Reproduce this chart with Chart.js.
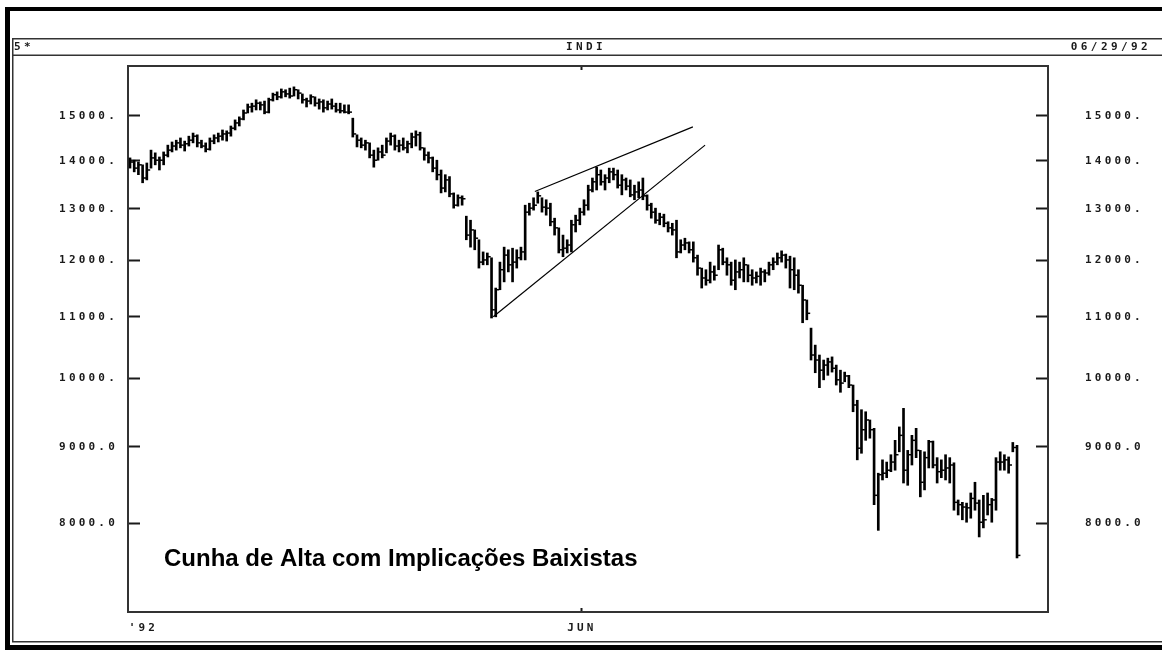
<!DOCTYPE html>
<html><head><meta charset="utf-8">
<script src="https://cdn.jsdelivr.net/npm/chart.js@4.4.1/dist/chart.umd.min.js"></script>
<style>html,body{margin:0;padding:0;background:#fff;}#wrap{width:1162px;height:652px;}</style>
</head><body><div id="wrap"><canvas id="c" width="1162" height="652"></canvas></div>
<script>
// ---- data ----
const highs = [14060,14010,13970,13910,13950,14230,14170,14080,14190,14340,14410,
14450,14500,14430,14540,14610,14570,14450,14390,14500,14570,14610,14680,14660,14770,14910,14980,
15140,15280,15300,15380,15330,15350,15420,15540,15570,15640,15620,15660,15690,15620,15520,15420,15500,15450,15400,15380,15350,15400,15300,15300,15260,15260,
14950,14570,14500,14450,14390,14230,14280,14340,14500,14610,14570,14450,14500,14430,14610,14660,14630,
14280,14190,14080,14010,13800,13700,13660,13320,13280,13260,
12850,12770,12580,12390,12160,12140,12050,11500,11970,12250,12200,12230,12200,12250,
13070,13110,13220,13340,13220,13180,13110,12810,12620,12480,12390,12770,12870,13010,13180,13480,13630,
13860,13800,13700,13840,13840,13800,13700,13630,13590,13480,13550,13630,13280,13110,13010,12910,12890,12740,12710,
12770,12390,12420,12350,12350,12100,11860,11830,11970,11900,12290,12230,12050,11970,12010,11970,12050,11920,11830,11790,11860,11830,11970,12050,12140,12180,12120,12080,12050,11830,11550,11290,
10810,10530,10370,10290,10320,10340,10210,10130,10100,10050,9900,9670,9530,9500,9380,9260,
8640,8820,8790,8890,9090,9280,9550,8950,9160,9260,8950,8930,9090,9080,8850,8820,8890,8850,
8780,8290,8260,8250,8380,8520,8290,8350,8380,8310,8850,8930,8890,8860,9060,9020];
const lows = [13840,13760,13700,13530,13590,13840,13910,13800,13910,14080,14190,
14230,14280,14210,14320,14390,14300,14280,14190,14230,14370,14410,14450,14430,14540,14680,14770,
14910,15070,15090,15140,15140,15050,15070,15350,15380,15420,15450,15420,15470,15400,15300,15210,15280,15230,15160,15090,15140,15160,15090,15070,15070,15050,
14520,14300,14280,14230,14060,13860,14010,14060,14170,14340,14230,14190,14230,14170,14280,14320,14230,
14010,13950,13760,13590,13320,13340,13240,13010,13050,13070,
12390,12250,12200,11860,11920,11920,10980,11000,11470,11610,11790,11610,11860,12010,
12010,12870,12970,13110,12930,12870,12660,12480,12140,12070,12140,12160,12540,12680,12870,12970,13340,
13380,13480,13380,13530,13590,13420,13280,13380,13240,13180,13220,13180,12970,12810,12710,12680,12640,12540,12480,
12050,12140,12200,12140,11970,11730,11500,11550,11590,11640,11830,11920,11730,11550,11470,11680,11610,11610,11550,11590,11550,11610,11730,11830,11920,11970,11860,11500,11470,11410,10900,10950,
10290,10090,9860,9980,10050,10100,9900,9790,9950,9860,9500,8820,8910,9090,9120,8230,
7910,8550,8580,8660,8680,8930,8510,8480,8750,8850,8330,8420,8710,8710,8510,8580,8550,8510,
8160,8100,8040,8010,8060,8160,7830,7940,8100,8010,8160,8680,8680,8640,8930,7580];
const closes = [13970,13840,13910,13630,13800,14060,14010,14010,14120,14230,14320,
14390,14340,14370,14450,14540,14390,14320,14250,14430,14500,14540,14590,14610,14720,14840,14930,
15070,15210,15230,15300,15260,15090,15380,15500,15450,15570,15520,15470,15620,15540,15380,15350,15450,15300,15330,15190,15280,15230,15140,15120,15090,15090,
14590,14450,14340,14390,14120,14010,14190,14120,14430,14540,14320,14340,14280,14370,14520,14570,14280,
14120,14060,13840,13700,13420,13590,13300,13070,13220,13200,
12480,12580,12420,11970,12010,12070,11120,11470,11830,12100,11920,11970,12050,12160,
12930,13010,13070,13260,13030,13010,12740,12620,12200,12230,12290,12680,12770,12930,13070,13380,13550,
13700,13550,13630,13760,13700,13480,13590,13460,13280,13340,13380,13260,13070,12930,12770,12830,12710,12620,12580,
12160,12290,12330,12200,12050,11860,11680,11640,11790,11730,12200,11970,11920,11640,11790,11830,11920,11730,11680,11710,11790,11770,11920,11970,12050,12100,12010,11830,11730,11550,11290,11060,
10370,10290,10130,10210,10260,10160,9980,9930,10040,9900,9600,8980,9240,9380,9240,8350,
8620,8640,8680,8790,8890,9160,8680,8890,9090,8950,8520,8850,9070,8750,8660,8680,8710,8750,
8260,8230,8200,8190,8310,8250,8010,8040,8230,8290,8790,8790,8820,8750,8990,7610];

const yTickValues = [8000, 9000, 10000, 11000, 12000, 13000, 14000, 15000];
const yTickLabels = ['8000.0', '9000.0', '10000.', '11000.', '12000.', '13000.', '14000.', '15000.'];
const xTickPositions = [3.2, 107.5];
const xTickLabels = ["'92", 'JUN'];
const wedgeUpper = [{x: 96.3, y: 13350}, {x: 133.9, y: 14750}];
const wedgeLower = [{x: 86.4, y: 11000}, {x: 136.8, y: 14340}];
const headerLeft = '5*';
const headerCenter = 'INDI';
const headerRight = '06/29/92';
const chartTitle = 'Cunha de Alta com Implicações Baixistas';

// ---- chart ----
const X_MIN = -0.476, X_MAX = 218.37;
const Y_MIN = 6973, Y_MAX = 16204;
const monoFont = {family: 'DejaVu Sans Mono', size: 11, weight: 'bold'};
const INK = '#1a1a1a';

const framePlugin = {
  id: 'frame',
  beforeDraw(chart) {
    const ctx = chart.ctx;
    ctx.save();
    ctx.fillStyle = '#fff';
    ctx.fillRect(0, 0, chart.width, chart.height);
    ctx.fillStyle = '#000';
    ctx.fillRect(5, 7, 1157, 4);
    ctx.fillRect(5, 7, 5, 643);
    ctx.fillRect(5, 645, 1157, 5);
    ctx.fillStyle = '#333';
    ctx.fillRect(12, 38, 1150, 1.5);
    ctx.fillRect(12, 54.5, 1150, 1.5);
    ctx.fillRect(12, 38, 1.5, 604);
    ctx.fillRect(12, 641, 1150, 1.5);
    ctx.fillStyle = INK;
    ctx.font = 'bold 11px "DejaVu Sans Mono"';
    ctx.letterSpacing = '3.4px';
    ctx.textBaseline = 'middle';
    ctx.textAlign = 'left';
    ctx.fillText(headerLeft, 14, 47);
    ctx.textAlign = 'center';
    ctx.fillText(headerCenter, 586, 47);
    ctx.textAlign = 'right';
    ctx.fillText(headerRight, 1151, 47);
    ctx.restore();
    ctx.letterSpacing = '3.2px';
  },
  afterDraw(chart) {
    const ctx = chart.ctx;
    ctx.save();
    ctx.letterSpacing = '0px';
    ctx.fillStyle = '#000';
    ctx.font = 'bold 24px "Liberation Sans"';
    ctx.textAlign = 'left';
    ctx.textBaseline = 'alphabetic';
    ctx.fillText(chartTitle, 164, 566);
    ctx.restore();
  }
};

const zeroPad = s => { s.paddingTop = 0; s.paddingBottom = 0; s.paddingLeft = 0; s.paddingRight = 0; };
const xTicks = s => { s.ticks = xTickPositions.map(v => ({value: v})); };
const yTicks = s => { s.ticks = yTickValues.map(v => ({value: v})); };
const yLabel = v => { const k = yTickValues.indexOf(v); return k >= 0 ? yTickLabels[k] : ''; };
const xTickColor = c => (c.index === 0 ? 'rgba(0,0,0,0)' : INK);

new Chart(document.getElementById('c'), {
  type: 'bar',
  data: {
    datasets: [
      {
        type: 'bar',
        data: highs.map((h, i) => ({x: i, y: [lows[i], h]})),
        backgroundColor: '#000',
        borderWidth: 0,
        barThickness: 2,
        grouped: false,
        xAxisID: 'x', yAxisID: 'y'
      },
      {
        type: 'line',
        data: closes.map((c, i) => ({x: i + 0.4, y: c})),
        showLine: false,
        pointStyle: 'line',
        pointRadius: 1.7,
        pointBorderWidth: 1.5,
        pointBorderColor: '#000',
        pointBackgroundColor: '#000',
        xAxisID: 'x', yAxisID: 'y'
      },
      {
        type: 'line', data: wedgeUpper, borderColor: '#000', borderWidth: 1.2,
        pointRadius: 0, fill: false, xAxisID: 'x', yAxisID: 'y'
      },
      {
        type: 'line', data: wedgeLower, borderColor: '#000', borderWidth: 1.2,
        pointRadius: 0, fill: false, xAxisID: 'x', yAxisID: 'y'
      }
    ]
  },
  options: {
    responsive: false,
    animation: false,
    devicePixelRatio: 1,
    layout: {padding: 0},
    plugins: {legend: {display: false}, tooltip: {enabled: false}, title: {display: false}},
    scales: {
      x: {
        type: 'linear', position: 'bottom', min: X_MIN, max: X_MAX, offset: false,
        afterBuildTicks: xTicks,
        afterFit: s => { s.height = 40; zeroPad(s); },
        ticks: {autoSkip: false, maxRotation: 0, padding: 14, color: INK, font: monoFont,
                callback: (v, i) => xTickLabels[i]},
        grid: {drawOnChartArea: false, drawTicks: true, tickLength: -4, tickWidth: 2, tickColor: xTickColor, offset: false},
        border: {display: true, color: '#333', width: 2}
      },
      xTop: {
        type: 'linear', position: 'top', min: X_MIN, max: X_MAX, offset: false,
        afterBuildTicks: xTicks,
        afterFit: s => { s.height = 66; zeroPad(s); },
        ticks: {display: false},
        grid: {drawOnChartArea: false, drawTicks: true, tickLength: -4, tickWidth: 2, tickColor: xTickColor, offset: false},
        border: {display: true, color: '#333', width: 2}
      },
      y: {
        type: 'logarithmic', position: 'left', min: Y_MIN, max: Y_MAX,
        afterBuildTicks: yTicks,
        afterFit: s => { s.width = 128; zeroPad(s); },
        ticks: {autoSkip: false, padding: 22, color: INK, font: monoFont, callback: yLabel},
        grid: {drawOnChartArea: false, drawTicks: true, tickLength: -12, tickWidth: 2, tickColor: INK},
        border: {display: true, color: '#333', width: 2}
      },
      y2: {
        type: 'logarithmic', position: 'right', min: Y_MIN, max: Y_MAX,
        afterBuildTicks: yTicks,
        afterFit: s => { s.width = 114; zeroPad(s); },
        ticks: {autoSkip: false, padding: 49, color: INK, font: monoFont, callback: yLabel},
        grid: {drawOnChartArea: false, drawTicks: true, tickLength: -12, tickWidth: 2, tickColor: INK},
        border: {display: true, color: '#333', width: 2}
      }
    }
  },
  plugins: [framePlugin]
});
</script>
</body></html>
